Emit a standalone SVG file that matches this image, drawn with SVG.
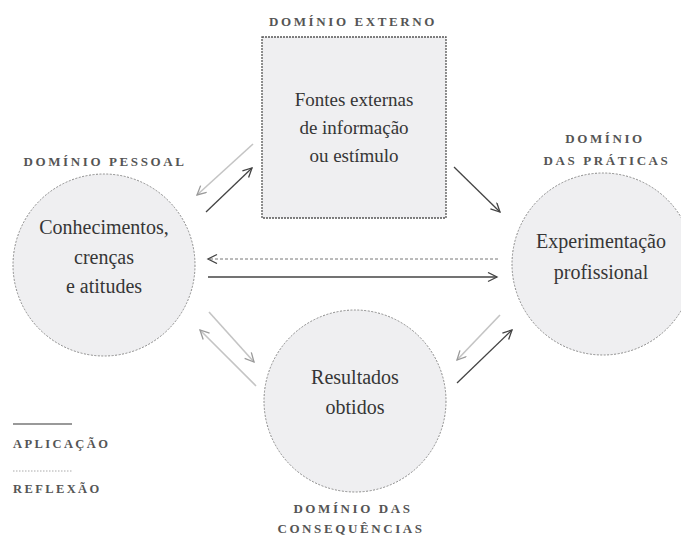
<svg xmlns="http://www.w3.org/2000/svg" width="681" height="540" viewBox="0 0 681 540">
<style>
.bg{fill:#ffffff}
.node{fill:#efeff1;stroke:#8a8a8a;stroke-width:1;stroke-dasharray:2 1.5}
.box{fill:#efeff1;stroke:#555;stroke-width:1.3;stroke-dasharray:2 1}
text{font-family:'Liberation Serif','DejaVu Serif',serif}
.title{font-size:13px;font-weight:bold;letter-spacing:2.6px;fill:#555;text-anchor:middle}
.lbl{font-size:20px;fill:#363636;text-anchor:middle}
.lblb{font-size:19px;fill:#363636;text-anchor:middle}
.leg{font-size:12.5px;font-weight:bold;letter-spacing:2.4px;fill:#555}
.app{stroke:#444;stroke-width:1.3;fill:none}
.ref{stroke:#c4c4c4;stroke-width:1.6;fill:none}
.refd{stroke:#777;stroke-width:1;stroke-dasharray:3 2;fill:none}
</style>
<defs>
<marker id="ahD" markerUnits="userSpaceOnUse" markerWidth="14" markerHeight="12" refX="10" refY="5" orient="auto">
<path d="M1,0.5 L10,5 L1,9.5" fill="none" stroke="#444" stroke-width="1.3"/>
</marker>
<marker id="ahL" markerUnits="userSpaceOnUse" markerWidth="14" markerHeight="12" refX="10" refY="5" orient="auto">
<path d="M1,0.5 L10,5 L1,9.5" fill="none" stroke="#9a9a9a" stroke-width="1.3"/>
</marker>
</defs>
<rect class="bg" x="0" y="0" width="681" height="540"/>

<g id="externo">
<text class="title" x="353" y="26">DOMÍNIO EXTERNO</text>
<rect class="box" x="262" y="37" width="184" height="181"/>
<text class="lblb" x="354" y="106">Fontes externas</text>
<text class="lblb" x="354" y="134">de informação</text>
<text class="lblb" x="354" y="162">ou estímulo</text>
</g>

<g id="pessoal">
<text class="title" x="105" y="166">DOMÍNIO PESSOAL</text>
<circle class="node" cx="104" cy="265" r="91"/>
<text class="lbl" x="104" y="234">Conhecimentos,</text>
<text class="lbl" x="104" y="264">crenças</text>
<text class="lbl" x="104" y="293">e atitudes</text>
</g>

<g id="praticas">
<text class="title" x="605" y="143">DOMÍNIO</text>
<text class="title" x="607" y="165">DAS PRÁTICAS</text>
<circle class="node" cx="603" cy="264" r="91"/>
<text class="lbl" x="601" y="248">Experimentação</text>
<text class="lbl" x="601" y="279">profissional</text>
</g>

<g id="consequencias">
<circle class="node" cx="355" cy="401" r="91"/>
<text class="lbl" x="355" y="384">Resultados</text>
<text class="lbl" x="355" y="414">obtidos</text>
<text class="title" x="353" y="513">DOMÍNIO DAS</text>
<text class="title" x="351" y="533">CONSEQUÊNCIAS</text>
</g>

<g id="legenda">
<line x1="13" y1="424" x2="72" y2="424" stroke="#777" stroke-width="1.5"/>
<text class="leg" x="13" y="448">APLICAÇÃO</text>
<line x1="13" y1="471" x2="72" y2="471" stroke="#aaa" stroke-width="1" stroke-dasharray="1.5 1.5"/>
<text class="leg" x="13" y="493">REFLEXÃO</text>
</g>

<g id="connectors">
<line class="ref" x1="253" y1="144" x2="197" y2="195" marker-end="url(#ahL)"/>
<line class="app" x1="206" y1="212" x2="252" y2="168" marker-end="url(#ahD)"/>
<line class="app" x1="454" y1="167" x2="500" y2="212" marker-end="url(#ahD)"/>
<line class="refd" x1="498" y1="259" x2="208" y2="259" marker-end="url(#ahD)"/>
<line class="app" x1="208" y1="277" x2="497" y2="277" marker-end="url(#ahD)"/>
<line class="ref" x1="209" y1="312" x2="254" y2="362" marker-end="url(#ahL)"/>
<line class="ref" x1="256" y1="386" x2="200" y2="330" marker-end="url(#ahL)"/>
<line class="ref" x1="500" y1="315" x2="457" y2="360" marker-end="url(#ahL)"/>
<line class="app" x1="457" y1="383" x2="512" y2="330" marker-end="url(#ahD)"/>
</g>
</svg>
